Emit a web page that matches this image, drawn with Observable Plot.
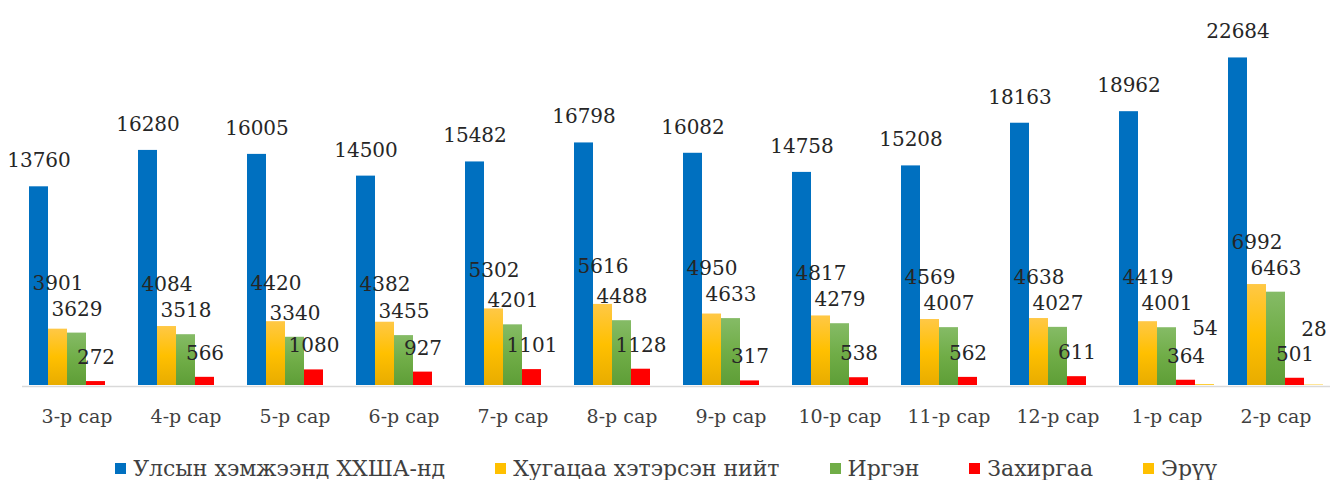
<!DOCTYPE html>
<html>
<head>
<meta charset="utf-8">
<script src="https://cdn.jsdelivr.net/npm/d3@7"></script>
<script src="https://cdn.jsdelivr.net/npm/@observablehq/plot@0.6"></script>
<style>
  body { margin: 0; background: #fff; }
  #chart svg { display: block; }
  #legend {
    width: 1332px; height: 40px; margin-top: 8px;
    display: flex; justify-content: center; align-items: center; gap: 50px;
    font-family: "DejaVu Serif", serif; font-size: 22px; color: #404040;
  }
  #legend .item { display: flex; align-items: center; gap: 7px; white-space: nowrap; }
  #legend .sw { width: 11px; height: 11px; display: inline-block; }
</style>
</head>
<body>
<div id="chart"></div>
<div id="legend"></div>
<script>
// ---- data ----
const months = ["3-р сар","4-р сар","5-р сар","6-р сар","7-р сар","8-р сар","9-р сар","10-р сар","11-р сар","12-р сар","1-р сар","2-р сар"];
const seriesNames = ["Улсын хэмжээнд ХХША-нд","Хугацаа хэтэрсэн нийт","Иргэн","Захиргаа","Эрүү"];
const national      = [13760,16280,16005,14500,15482,16798,16082,14758,15208,18163,18962,22684];
const overdueTotal  = [3901,4084,4420,4382,5302,5616,4950,4817,4569,4638,4419,6992];
const civil         = [3629,3518,3340,3455,4201,4488,4633,4279,4007,4027,4001,6463];
const administrative= [272,566,1080,927,1101,1128,317,538,562,611,364,501];
const criminal      = [null,null,null,null,null,null,null,null,null,null,54,28];

// ---- styles / layout ----
const W = 1332, H = 440, MT = 24, MB = 55, YMAX = 25000;
const pxPerUnit = (H - MT - MB) / YMAX;
const barFills    = ["#0070C0","url(#gradYellow)","url(#gradGreen)","#FF0000","#FFC000"];
const legendFills = ["#0070C0","#FFC000","#70AD47","#FF0000","#FFC000"];
const labelLift   = [26, 38, 24, 24, 56];
const raisedLift  = 50; // yellow label lifted above the green label when they collide

const seriesValues = [national, overdueTotal, civil, administrative, criminal];
const rows = [];
seriesValues.forEach((vals, si) => vals.forEach((v, mi) => {
  if (v != null) rows.push({month: months[mi], series: seriesNames[si], value: v, mi, si});
}));

// yellow labels collide with green ones when the two bar tops are close
const collides = d => d.si === 1 && (overdueTotal[d.mi] - civil[d.mi]) * pxPerUnit < 12;

const labelOpts = {x: "series", fx: "month", text: d => String(d.value), fill: "#262626", fontSize: 20};
const labelMarks = [];
seriesNames.forEach((s, si) => {
  const data = rows.filter(d => d.si === si);
  if (si === 1) {
    labelMarks.push(Plot.text(data.filter(d => !collides(d)), {...labelOpts, y: "value", dy: -labelLift[si]}));
    labelMarks.push(Plot.text(data.filter(collides), {...labelOpts, y: d => civil[d.mi], dy: -raisedLift}));
  } else {
    labelMarks.push(Plot.text(data, {...labelOpts, y: "value", dy: -labelLift[si]}));
  }
});

const plot = Plot.plot({
  width: W, height: H,
  marginLeft: 28, marginRight: 8.5, marginTop: MT, marginBottom: MB,
  style: {fontFamily: "DejaVu Serif, serif", fontSize: "19px", color: "#404040", background: "#fff"},
  fx: {domain: months, paddingInner: 0.1246, paddingOuter: 0, axis: "bottom", tickSize: 0, tickPadding: 24, label: null},
  x: {domain: seriesNames, padding: 0, axis: null},
  y: {domain: [0, YMAX], axis: null},
  color: {domain: seriesNames, range: barFills},
  marks: [
    Plot.barY(rows, {x: "series", fx: "month", y: "value", fill: "series"}),
    Plot.ruleY([0], {stroke: "#d9d9d9", strokeWidth: 1.5, dy: 1, insetLeft: -7, insetRight: -7}),
    ...labelMarks
  ]
});

// gradients
const svg = d3.select(plot);
const defs = svg.insert("defs", ":first-child");
const gy = defs.append("linearGradient").attr("id", "gradYellow").attr("x1", 0).attr("y1", 0).attr("x2", 0).attr("y2", 1);
gy.append("stop").attr("offset", "0%").attr("stop-color", "#FFC846");
gy.append("stop").attr("offset", "50%").attr("stop-color", "#FFC000");
gy.append("stop").attr("offset", "100%").attr("stop-color", "#E8AC00");
const gg = defs.append("linearGradient").attr("id", "gradGreen").attr("x1", 0).attr("y1", 0).attr("x2", 0).attr("y2", 1);
gg.append("stop").attr("offset", "0%").attr("stop-color", "#85BB66");
gg.append("stop").attr("offset", "50%").attr("stop-color", "#70AD47");
gg.append("stop").attr("offset", "100%").attr("stop-color", "#5E9E37");

document.getElementById("chart").appendChild(plot);

// legend
const legend = document.getElementById("legend");
seriesNames.forEach((s, i) => {
  const item = document.createElement("div");
  item.className = "item";
  const sw = document.createElement("span");
  sw.className = "sw"; sw.style.background = legendFills[i];
  const tx = document.createElement("span");
  tx.textContent = s;
  item.appendChild(sw); item.appendChild(tx);
  legend.appendChild(item);
});
</script>
</body>
</html>
